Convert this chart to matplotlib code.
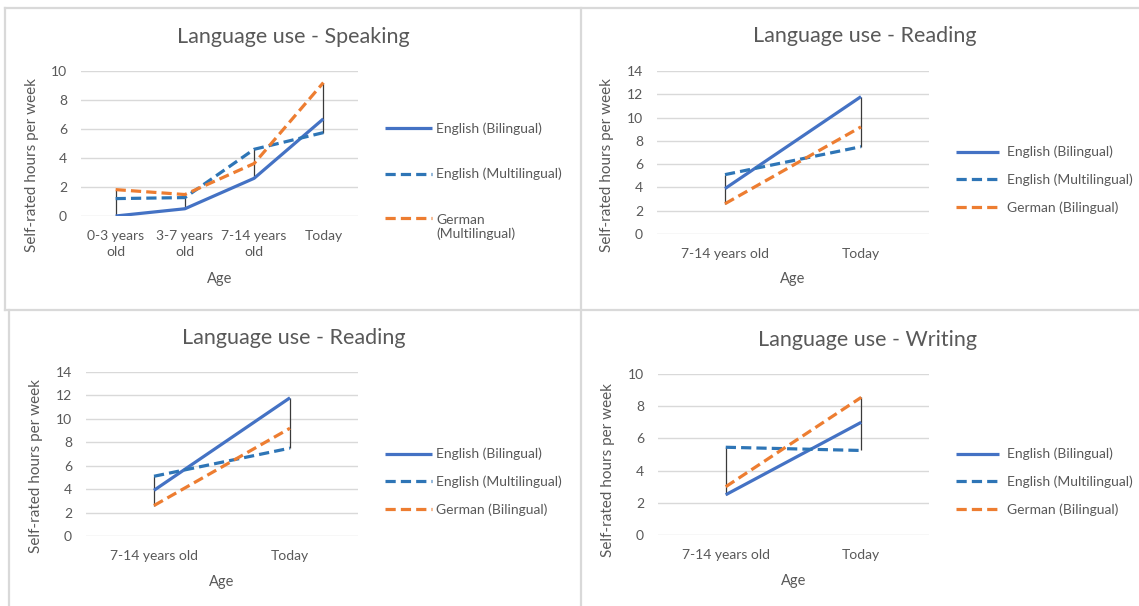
import matplotlib
matplotlib.use("Agg")
import matplotlib.pyplot as plt
from matplotlib.lines import Line2D
import numpy as np

plt.rcParams['font.family'] = ['Lato', 'DejaVu Sans']

# ---------------- data ----------------
speak_cats = ["0-3 years\nold", "3-7 years\nold", "7-14 years\nold", "Today"]
speak_eng_bi = [0.0, 0.5, 2.6, 6.7]
speak_eng_multi = [1.2, 1.27, 4.6, 5.75]
speak_ger_multi = [1.82, 1.48, 3.62, 9.2]

read_cats = ["7-14 years old", "Today"]
read_eng_bi = [3.9, 11.8]
read_eng_multi = [5.1, 7.5]
read_ger_bi = [2.6, 9.2]

write_cats = ["7-14 years old", "Today"]
write_eng_bi = [2.5, 7.0]
write_eng_multi = [5.45, 5.25]
write_ger_bi = [3.0, 8.55]

labels_speak = ["English (Bilingual)", "English (Multilingual)", "German\n(Multilingual)"]
labels_other = ["English (Bilingual)", "English (Multilingual)", "German (Bilingual)"]

titles = ["Language use - Speaking", "Language use - Reading",
          "Language use - Reading", "Language use - Writing"]

# ---------------- style ----------------
C_BI = "#4472C4"
C_MULTI = "#2E75B6"
C_GER = "#ED7D31"
TXT = "#595959"
GRID = "#D9D9D9"

W, H = 1139, 606
fig = plt.figure(figsize=(W / 100, H / 100), dpi=100)
fig.patch.set_facecolor("white")


def fx(x):
    return x / W


def fy(y):
    return 1 - y / H


def make_axes(x0, x1, ytop, ybot):
    return fig.add_axes([fx(x0), fy(ybot), fx(x1 - x0), (ybot - ytop) / H])


panels = [
    dict(box=(81, 358, 71, 216), cats=speak_cats,
         series=[speak_eng_bi, speak_eng_multi, speak_ger_multi],
         labels=labels_speak, ymax=10, title=titles[0], title_xy=(293, 37),
         leg=(1.097, 0.24), lspace=2.4, hl=3.4, htp=0.3,
         ylab=(-0.152, 0.352), agey=279, xpad=10),
    dict(box=(657, 929, 71, 234), cats=read_cats,
         series=[read_eng_bi, read_eng_multi, read_ger_bi],
         labels=labels_other, ymax=14, title=titles[1], title_xy=(865, 36),
         leg=(1.099, 0.331), lspace=1.1, hl=3.1, htp=0.6,
         ylab=(-0.158, 0.423), agey=279, xpad=10),
    dict(box=(86, 358, 372, 536), cats=read_cats,
         series=[read_eng_bi, read_eng_multi, read_ger_bi],
         labels=labels_other, ymax=14, title=titles[2], title_xy=(294, 338),
         leg=(1.099, 0.329), lspace=1.1, hl=3.4, htp=0.3,
         ylab=(-0.158, 0.427), agey=582, xpad=10),
    dict(box=(658, 929, 374, 535), cats=write_cats,
         series=[write_eng_bi, write_eng_multi, write_ger_bi],
         labels=labels_other, ymax=10, title=titles[3], title_xy=(867, 340),
         leg=(1.10, 0.329), lspace=1.1, hl=3.1, htp=0.6,
         ylab=(-0.159, 0.404), agey=581, xpad=10),
]

styles = [
    dict(color=C_BI, lw=2.3, ls="-"),
    dict(color=C_MULTI, lw=2.3, ls=(0, (3.2, 1.6))),
    dict(color=C_GER, lw=2.3, ls=(0, (3.2, 1.6))),
]

FS = 10

for p in panels:
    x0, x1, yt, yb = p["box"]
    ax = make_axes(x0, x1, yt, yb)
    n = len(p["cats"])
    xs = np.arange(n)
    data = np.array(p["series"])

    # high-low lines
    ax.vlines(xs, data.min(axis=0), data.max(axis=0), color="#3A3A3A", lw=0.9, zorder=2)

    handles = []
    for vals, st, lab in zip(p["series"], styles, p["labels"]):
        h, = ax.plot(xs, vals, color=st["color"], lw=st["lw"], linestyle=st["ls"],
                     label=lab, zorder=3, solid_capstyle="butt", dash_capstyle="butt")
        handles.append(h)

    ax.set_xlim(-0.5, n - 0.5)
    ax.set_ylim(0, p["ymax"])
    ax.set_yticks(np.arange(0, p["ymax"] + 1, 2))
    ax.set_xticks(xs)
    ax.set_xticklabels(p["cats"], linespacing=1.45)
    ax.grid(axis="y", color=GRID, lw=1.0)
    ax.set_axisbelow(True)
    for s in ax.spines.values():
        s.set_visible(False)
    ax.tick_params(axis="both", length=0, colors=TXT, labelsize=FS)
    ax.tick_params(axis="x", pad=p["xpad"])
    ax.tick_params(axis="y", pad=10)

    ax.set_ylabel("Self-rated hours per week", color=TXT, fontsize=11)
    ax.yaxis.set_label_coords(*p["ylab"])
    ax.set_xlabel("Age", color=TXT, fontsize=10.5)
    ax.xaxis.set_label_coords(0.5, (yb - p["agey"]) / (yb - yt))
    ax.xaxis.label.set_va("center")

    leg = ax.legend(handles=handles, loc="center left", bbox_to_anchor=p["leg"],
                    frameon=False, fontsize=FS, handlelength=p["hl"],
                    handletextpad=p["htp"], borderpad=0, borderaxespad=0,
                    labelspacing=p["lspace"])
    for t, lab in zip(leg.get_texts(), p["labels"]):
        t.set_color(TXT)
    # align key of a wrapped label with its first text line
    for ln, lab in zip(leg.get_lines(), p["labels"]):
        if "\n" in lab:
            ln.set_ydata(np.asarray(ln.get_ydata()) + 6.5)

    fig.text(fx(p["title_xy"][0]), fy(p["title_xy"][1]), p["title"], ha="center",
             va="center", fontsize=15.5, color=TXT)

# panel borders
border = dict(color=GRID, lw=1.6, transform=fig.transFigure)
fig.add_artist(Line2D([fx(5), fx(1139)], [fy(8), fy(8)], **border))
fig.add_artist(Line2D([fx(5), fx(5)], [fy(8), fy(310)], **border))
fig.add_artist(Line2D([fx(581), fx(581)], [fy(8), fy(606)], **border))
fig.add_artist(Line2D([fx(5), fx(1139)], [fy(310), fy(310)], **border))
fig.add_artist(Line2D([fx(9), fx(9)], [fy(310), fy(606)], **border))

fig.savefig("out.png", dpi=100, facecolor="white")
